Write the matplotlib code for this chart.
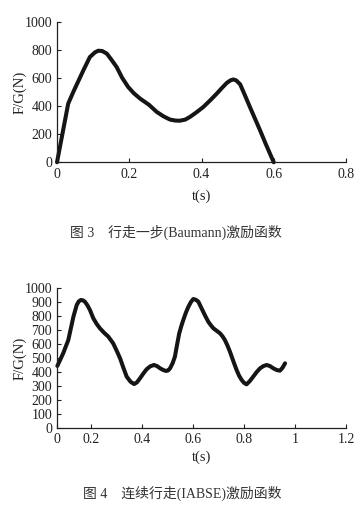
import matplotlib
matplotlib.use("Agg")
import matplotlib.pyplot as plt

# ---- Data: Fig.3 single step (Baumann) ----
t_step = [0.0, 0.031, 0.045, 0.073, 0.091, 0.105, 0.114, 0.125, 0.138, 0.150, 0.165,
          0.180, 0.197, 0.212, 0.230, 0.255, 0.276, 0.295, 0.313, 0.328, 0.340,
          0.355, 0.368, 0.385, 0.405, 0.425, 0.442, 0.458, 0.470, 0.480, 0.488,
          0.496, 0.507, 0.520, 0.534, 0.548, 0.562, 0.578, 0.600]
F_step = [0, 419, 502, 657, 752, 785, 797, 795, 776, 735, 681,
          605, 538, 495, 455, 410, 360, 328, 305, 298, 297,
          305, 324, 355, 395, 445, 490, 535, 567, 585, 592,
          585, 557, 480, 395, 312, 229, 130, 0]

# ---- Data: Fig.4 continuous walking (IABSE) ----
t_walk = [0.068, 0.091, 0.111, 0.131, 0.144, 0.152, 0.160, 0.168, 0.176, 0.186, 0.196,
          0.209, 0.222, 0.235, 0.252, 0.268, 0.287, 0.300, 0.314, 0.327, 0.340,
          0.355, 0.369, 0.380, 0.392, 0.405, 0.418, 0.432, 0.447, 0.459, 0.471,
          0.483, 0.494, 0.502, 0.510, 0.520, 0.529, 0.537, 0.546, 0.554, 0.562,
          0.572, 0.582, 0.592, 0.601, 0.611, 0.621, 0.630, 0.640, 0.650, 0.660,
          0.670, 0.680, 0.693, 0.706, 0.716, 0.725, 0.735, 0.745, 0.758, 0.771,
          0.781, 0.791, 0.800, 0.810, 0.823, 0.836, 0.850, 0.863, 0.876, 0.889,
          0.902, 0.915, 0.928, 0.941, 0.951, 0.961]
F_walk = [443, 534, 629, 796, 880, 906, 916, 914, 904, 878, 844,
          785, 745, 713, 680, 653, 605, 555, 498, 430, 366,
          330, 313, 325, 354, 388, 419, 440, 450, 442, 426,
          414, 407, 410, 426, 462, 509, 590, 677, 728, 773,
          825, 868, 902, 923, 918, 904, 870, 832, 795, 760,
          735, 713, 695, 677, 655, 629, 590, 545, 478, 414,
          372, 342, 322, 311, 335, 366, 400, 426, 442, 450,
          442, 426, 414, 409, 430, 462]

x_ticks_top = [0, 0.2, 0.4, 0.6, 0.8]
x_labels_top = ["0", "0.2", "0.4", "0.6", "0.8"]
x_ticks_bot = [0.2, 0.4, 0.6, 0.8, 1.0, 1.2]
x_labels_bot = ["0", "0.2", "0.4", "0.6", "0.8", "1", "1.2"]
y_ticks_top = [0, 200, 400, 600, 800, 1000]
y_ticks_bot = [0, 100, 200, 300, 400, 500, 600, 700, 800, 900, 1000]

caption_top = "图 3　行走一步(Baumann)激励函数"
caption_bot = "图 4　连续行走(IABSE)激励函数"

W, H = 361, 512
fig = plt.figure(figsize=(W / 100, H / 100), dpi=100)
fig.patch.set_facecolor("white")

serif = ["Liberation Serif", "DejaVu Serif"]
txt_color = "#222222"
line_color = "#151515"


def style_axes(ax):
    for s in ("top", "right"):
        ax.spines[s].set_visible(False)
    for s in ("left", "bottom"):
        ax.spines[s].set_linewidth(0.9)
        ax.spines[s].set_color("#202020")
    ax.tick_params(direction="in", length=3, width=0.8, colors="#202020",
                   labelsize=10, labelcolor=txt_color)
    ax.tick_params(axis="y", pad=3.5)
    ax.tick_params(axis="x", pad=4)
    for lab in ax.get_xticklabels() + ax.get_yticklabels():
        lab.set_fontfamily(serif)


def px_axes(left, right, top, bottom):
    return fig.add_axes([left / W, 1 - bottom / H, (right - left) / W, (bottom - top) / H])


# ---- Top chart ----
ax1 = px_axes(57, 346, 22.3, 162.3)
ax1.plot(t_step, F_step, color=line_color, lw=2.9, solid_capstyle="round",
         solid_joinstyle="round", clip_on=False)
ax1.set_xlim(0, 0.8)
ax1.set_ylim(0, 1000)
ax1.set_xticks(x_ticks_top)
ax1.set_xticklabels(x_labels_top)
ax1.set_yticks(y_ticks_top)
style_axes(ax1)
ax1.set_xlabel("t(s)", fontfamily=serif, fontsize=10.5, color=txt_color, labelpad=6)
ax1.set_ylabel("F/G(N)", fontfamily=serif, fontsize=10.5, color=txt_color)
ax1.yaxis.set_label_coords(-0.105, 0.5)

# ---- Bottom chart ----
x_left_bot = 1.2 - (346 - 57) / 255.0
ax2 = px_axes(57, 346, 288.3, 427.7)
ax2.plot(t_walk, F_walk, color=line_color, lw=2.9, solid_capstyle="round",
         solid_joinstyle="round", clip_on=False)
ax2.set_xlim(x_left_bot, 1.2)
ax2.set_ylim(0, 1000)
ax2.set_xticks([x_left_bot] + x_ticks_bot)
ax2.set_xticklabels(x_labels_bot)
ax2.set_yticks(y_ticks_bot)
style_axes(ax2)
ax2.set_xlabel("t(s)", fontfamily=serif, fontsize=10.5, color=txt_color, labelpad=3)
ax2.set_ylabel("F/G(N)", fontfamily=serif, fontsize=10.5, color=txt_color)
ax2.yaxis.set_label_coords(-0.105, 0.5)

# ---- Captions ----
cap_family = ["Liberation Serif", "Noto Sans CJK SC", "DejaVu Sans"]
fig.text(176 / W, 1 - 232.7 / H, caption_top, ha="center", va="center",
         fontsize=10, color="#333333", family=cap_family)
fig.text(182 / W, 1 - 493.3 / H, caption_bot, ha="center", va="center",
         fontsize=10, color="#333333", family=cap_family)

fig.savefig("out.png", dpi=100, facecolor="white")
